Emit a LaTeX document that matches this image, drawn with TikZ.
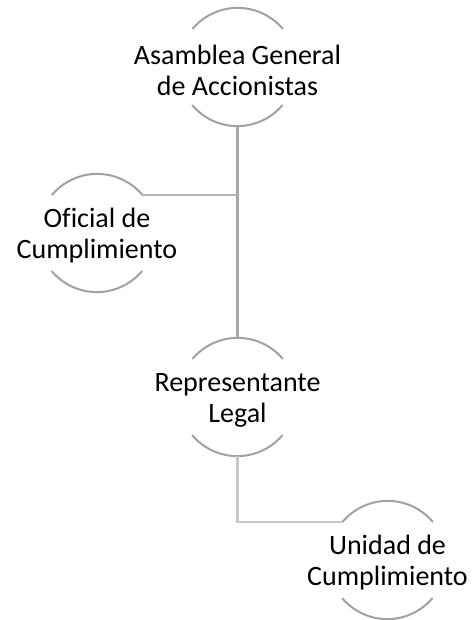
\documentclass[tikz,border=0pt]{standalone}
\usepackage{fontspec}
\setmainfont[Ligatures=NoCommon]{Carlito}
\begin{document}
\begin{tikzpicture}[x=1pt,y=-1pt,
  ring/.style={circle,minimum size=118pt,inner sep=0pt},
  lbl/.style={align=center,font=\fontsize{28}{31}\selectfont,inner sep=0pt},
  arcline/.style={draw=black!37,line width=2pt},
  mainline/.style={draw=black!35,line width=3.5pt},
  sideline/.style={draw=black!30,line width=2pt},
  lowline/.style={draw=black!22,line width=2.2pt}]
\useasboundingbox (0,0) rectangle (473,620);
\node[ring] (a) at (237.5,67) {};
\node[ring] (o) at (97,233) {};
\node[ring] (r) at (237.5,397) {};
\node[ring] (u) at (387.5,560) {};
\foreach \n in {a,o,r,u}{
  \draw[arcline] (\n.40) arc[start angle=40,end angle=140,radius=59pt];
  \draw[arcline] (\n.220) arc[start angle=220,end angle=320,radius=59pt];
}
\draw[mainline] (a.south) -- (r.north);
\draw[sideline] (a.south |- o.40) -- (o.40);
\draw[lowline] (r.south) |- (u.140);
\node[lbl] (at) at ([yshift=-3pt]a.center) {Asamblea General\\de Accionistas};
\node[lbl] (ot) at ([yshift=-3pt]o.center) {Oficial de\\Cumplimiento};
\node[lbl] (rt) at ([yshift=-3pt]r.center) {Representante\\Legal};
\node[lbl] (ut) at ([yshift=-3pt]u.center) {Unidad de\\Cumplimiento};
\end{tikzpicture}
\end{document}
